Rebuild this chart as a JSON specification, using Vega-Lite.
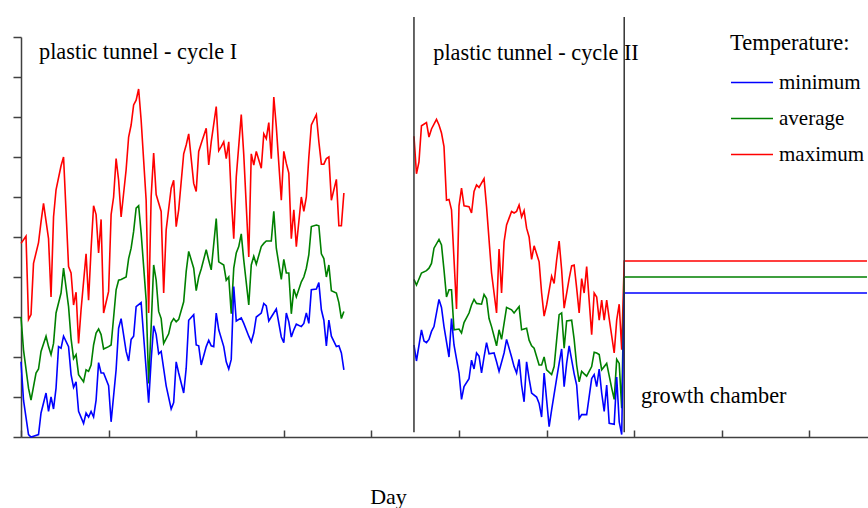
{
"$schema":"https://vega.github.io/schema/vega-lite/v6.json",
"width":847,"height":400,
"autosize":{"type":"none"},
"padding":{"left":21,"top":37,"right":0,"bottom":71},
"background":"white",
"config":{"view":{"stroke":null},"font":"Liberation Serif",
"axis":{"labels":false,"grid":false,"tickWidth":1.5,"tickColor":"#404040","domainColor":"#404040","domainWidth":1.5,"titleFont":"Liberation Serif","titleFontSize":22,"titleFontWeight":"normal","titleColor":"black"},
"axisX":{"tickSize":-7,"titleAlign":"center","titleBaseline":"alphabetic","titleX":367,"titleY":66},
"axisY":{"tickSize":8}},
"layer":[
{"data":{"values":[
{"day":0,"series":"maximum","cycle":"I","temp":24.2},{"day":2,"series":"maximum","cycle":"I","temp":25.1},{"day":3,"series":"maximum","cycle":"I","temp":14.7},{"day":4,"series":"maximum","cycle":"I","temp":15.3},{"day":5,"series":"maximum","cycle":"I","temp":21.7},{"day":7,"series":"maximum","cycle":"I","temp":24.3},{"day":8,"series":"maximum","cycle":"I","temp":26.9},{"day":9,"series":"maximum","cycle":"I","temp":29.2},{"day":11,"series":"maximum","cycle":"I","temp":24.8},{"day":12,"series":"maximum","cycle":"I","temp":17.5},{"day":13,"series":"maximum","cycle":"I","temp":27.5},{"day":14,"series":"maximum","cycle":"I","temp":30.9},{"day":16,"series":"maximum","cycle":"I","temp":33.9},{"day":17,"series":"maximum","cycle":"I","temp":35.0},{"day":19,"series":"maximum","cycle":"I","temp":21.3},{"day":20,"series":"maximum","cycle":"I","temp":20.5},{"day":21,"series":"maximum","cycle":"I","temp":16.5},{"day":22,"series":"maximum","cycle":"I","temp":18.1},{"day":23,"series":"maximum","cycle":"I","temp":11.7},{"day":24,"series":"maximum","cycle":"I","temp":15.9},{"day":26,"series":"maximum","cycle":"I","temp":22.9},{"day":27,"series":"maximum","cycle":"I","temp":17.1},{"day":28,"series":"maximum","cycle":"I","temp":23.5},{"day":29,"series":"maximum","cycle":"I","temp":28.9},{"day":30,"series":"maximum","cycle":"I","temp":27.8},{"day":31,"series":"maximum","cycle":"I","temp":23.0},{"day":32,"series":"maximum","cycle":"I","temp":27.2},{"day":33,"series":"maximum","cycle":"I","temp":15.5},{"day":35,"series":"maximum","cycle":"I","temp":18.2},{"day":36,"series":"maximum","cycle":"I","temp":27.8},{"day":37,"series":"maximum","cycle":"I","temp":30.0},{"day":38,"series":"maximum","cycle":"I","temp":34.8},{"day":39,"series":"maximum","cycle":"I","temp":32.1},{"day":40,"series":"maximum","cycle":"I","temp":27.5},{"day":42,"series":"maximum","cycle":"I","temp":33.4},{"day":43,"series":"maximum","cycle":"I","temp":37.5},{"day":44,"series":"maximum","cycle":"I","temp":39.0},{"day":45,"series":"maximum","cycle":"I","temp":41.5},{"day":46,"series":"maximum","cycle":"I","temp":42.1},{"day":47,"series":"maximum","cycle":"I","temp":43.5},{"day":48,"series":"maximum","cycle":"I","temp":39.6},{"day":50,"series":"maximum","cycle":"I","temp":29.6},{"day":51,"series":"maximum","cycle":"I","temp":15.5},{"day":52,"series":"maximum","cycle":"I","temp":30.0},{"day":53,"series":"maximum","cycle":"I","temp":35.5},{"day":54,"series":"maximum","cycle":"I","temp":30.3},{"day":56,"series":"maximum","cycle":"I","temp":28.2},{"day":57,"series":"maximum","cycle":"I","temp":18.0},{"day":58,"series":"maximum","cycle":"I","temp":25.9},{"day":60,"series":"maximum","cycle":"I","temp":31.1},{"day":61,"series":"maximum","cycle":"I","temp":32.1},{"day":62,"series":"maximum","cycle":"I","temp":26.3},{"day":63,"series":"maximum","cycle":"I","temp":28.4},{"day":65,"series":"maximum","cycle":"I","temp":35.4},{"day":66,"series":"maximum","cycle":"I","temp":36.5},{"day":67,"series":"maximum","cycle":"I","temp":37.9},{"day":69,"series":"maximum","cycle":"I","temp":31.7},{"day":70,"series":"maximum","cycle":"I","temp":30.7},{"day":71,"series":"maximum","cycle":"I","temp":35.7},{"day":72,"series":"maximum","cycle":"I","temp":36.7},{"day":74,"series":"maximum","cycle":"I","temp":38.6},{"day":75,"series":"maximum","cycle":"I","temp":34.0},{"day":76,"series":"maximum","cycle":"I","temp":36.9},{"day":78,"series":"maximum","cycle":"I","temp":41.3},{"day":79,"series":"maximum","cycle":"I","temp":35.8},{"day":80,"series":"maximum","cycle":"I","temp":36.3},{"day":81,"series":"maximum","cycle":"I","temp":36.9},{"day":82,"series":"maximum","cycle":"I","temp":34.8},{"day":83,"series":"maximum","cycle":"I","temp":36.9},{"day":84,"series":"maximum","cycle":"I","temp":30.0},{"day":85,"series":"maximum","cycle":"I","temp":24.8},{"day":86,"series":"maximum","cycle":"I","temp":32.5},{"day":88,"series":"maximum","cycle":"I","temp":40.3},{"day":89,"series":"maximum","cycle":"I","temp":35.3},{"day":91,"series":"maximum","cycle":"I","temp":22.5},{"day":92,"series":"maximum","cycle":"I","temp":35.4},{"day":93,"series":"maximum","cycle":"I","temp":34.0},{"day":94,"series":"maximum","cycle":"I","temp":35.7},{"day":96,"series":"maximum","cycle":"I","temp":33.6},{"day":97,"series":"maximum","cycle":"I","temp":37.9},{"day":98,"series":"maximum","cycle":"I","temp":37.3},{"day":99,"series":"maximum","cycle":"I","temp":39.3},{"day":100,"series":"maximum","cycle":"I","temp":34.8},{"day":101,"series":"maximum","cycle":"I","temp":42.5},{"day":102,"series":"maximum","cycle":"I","temp":38.8},{"day":104,"series":"maximum","cycle":"I","temp":29.6},{"day":105,"series":"maximum","cycle":"I","temp":35.7},{"day":106,"series":"maximum","cycle":"I","temp":34.2},{"day":107,"series":"maximum","cycle":"I","temp":33.0},{"day":108,"series":"maximum","cycle":"I","temp":24.8},{"day":109,"series":"maximum","cycle":"I","temp":28.4},{"day":110,"series":"maximum","cycle":"I","temp":23.8},{"day":112,"series":"maximum","cycle":"I","temp":30.0},{"day":113,"series":"maximum","cycle":"I","temp":28.2},{"day":114,"series":"maximum","cycle":"I","temp":30.0},{"day":115,"series":"maximum","cycle":"I","temp":35.0},{"day":116,"series":"maximum","cycle":"I","temp":39.0},{"day":118,"series":"maximum","cycle":"I","temp":40.3},{"day":119,"series":"maximum","cycle":"I","temp":36.9},{"day":120,"series":"maximum","cycle":"I","temp":34.1},{"day":121,"series":"maximum","cycle":"I","temp":34.1},{"day":122,"series":"maximum","cycle":"I","temp":34.8},{"day":123,"series":"maximum","cycle":"I","temp":35.0},{"day":124,"series":"maximum","cycle":"I","temp":29.6},{"day":126,"series":"maximum","cycle":"I","temp":32.2},{"day":127,"series":"maximum","cycle":"I","temp":26.4},{"day":128,"series":"maximum","cycle":"I","temp":26.4},{"day":129,"series":"maximum","cycle":"I","temp":30.5},
{"day":157,"series":"maximum","cycle":"II","temp":37.6},{"day":158,"series":"maximum","cycle":"II","temp":32.9},{"day":159,"series":"maximum","cycle":"II","temp":34.4},{"day":160,"series":"maximum","cycle":"II","temp":38.9},{"day":162,"series":"maximum","cycle":"II","temp":39.3},{"day":163,"series":"maximum","cycle":"II","temp":37.5},{"day":164,"series":"maximum","cycle":"II","temp":38.5},{"day":166,"series":"maximum","cycle":"II","temp":39.7},{"day":167,"series":"maximum","cycle":"II","temp":39.0},{"day":168,"series":"maximum","cycle":"II","temp":38.0},{"day":169,"series":"maximum","cycle":"II","temp":36.3},{"day":170,"series":"maximum","cycle":"II","temp":29.6},{"day":171,"series":"maximum","cycle":"II","temp":29.7},{"day":172,"series":"maximum","cycle":"II","temp":28.4},{"day":174,"series":"maximum","cycle":"II","temp":16.0},{"day":175,"series":"maximum","cycle":"II","temp":28.9},{"day":176,"series":"maximum","cycle":"II","temp":31.1},{"day":177,"series":"maximum","cycle":"II","temp":28.9},{"day":179,"series":"maximum","cycle":"II","temp":28.8},{"day":180,"series":"maximum","cycle":"II","temp":28.0},{"day":181,"series":"maximum","cycle":"II","temp":30.7},{"day":182,"series":"maximum","cycle":"II","temp":31.5},{"day":183,"series":"maximum","cycle":"II","temp":31.2},{"day":185,"series":"maximum","cycle":"II","temp":32.3},{"day":186,"series":"maximum","cycle":"II","temp":28.8},{"day":188,"series":"maximum","cycle":"II","temp":20.5},{"day":190,"series":"maximum","cycle":"II","temp":15.5},{"day":191,"series":"maximum","cycle":"II","temp":23.5},{"day":192,"series":"maximum","cycle":"II","temp":18.0},{"day":193,"series":"maximum","cycle":"II","temp":24.4},{"day":194,"series":"maximum","cycle":"II","temp":26.5},{"day":196,"series":"maximum","cycle":"II","temp":28.2},{"day":197,"series":"maximum","cycle":"II","temp":28.0},{"day":198,"series":"maximum","cycle":"II","temp":28.2},{"day":199,"series":"maximum","cycle":"II","temp":29.0},{"day":200,"series":"maximum","cycle":"II","temp":27.5},{"day":201,"series":"maximum","cycle":"II","temp":28.3},{"day":202,"series":"maximum","cycle":"II","temp":26.1},{"day":203,"series":"maximum","cycle":"II","temp":25.0},{"day":204,"series":"maximum","cycle":"II","temp":22.2},{"day":205,"series":"maximum","cycle":"II","temp":23.9},{"day":207,"series":"maximum","cycle":"II","temp":21.9},{"day":208,"series":"maximum","cycle":"II","temp":18.0},{"day":209,"series":"maximum","cycle":"II","temp":15.1},{"day":210,"series":"maximum","cycle":"II","temp":16.5},{"day":212,"series":"maximum","cycle":"II","temp":20.1},{"day":213,"series":"maximum","cycle":"II","temp":19.2},{"day":214,"series":"maximum","cycle":"II","temp":22.1},{"day":215,"series":"maximum","cycle":"II","temp":24.5},{"day":216,"series":"maximum","cycle":"II","temp":20.9},{"day":217,"series":"maximum","cycle":"II","temp":16.1},{"day":219,"series":"maximum","cycle":"II","temp":19.8},{"day":220,"series":"maximum","cycle":"II","temp":21.4},{"day":221,"series":"maximum","cycle":"II","temp":21.5},{"day":222,"series":"maximum","cycle":"II","temp":18.6},{"day":223,"series":"maximum","cycle":"II","temp":15.5},{"day":224,"series":"maximum","cycle":"II","temp":19.8},{"day":225,"series":"maximum","cycle":"II","temp":18.0},{"day":226,"series":"maximum","cycle":"II","temp":21.3},{"day":228,"series":"maximum","cycle":"II","temp":12.8},{"day":229,"series":"maximum","cycle":"II","temp":18.0},{"day":230,"series":"maximum","cycle":"II","temp":17.5},{"day":231,"series":"maximum","cycle":"II","temp":14.6},{"day":232,"series":"maximum","cycle":"II","temp":17.1},{"day":233,"series":"maximum","cycle":"II","temp":14.6},{"day":234,"series":"maximum","cycle":"II","temp":17.1},{"day":235,"series":"maximum","cycle":"II","temp":14.8},{"day":237,"series":"maximum","cycle":"II","temp":10.5},{"day":238,"series":"maximum","cycle":"II","temp":14.6},{"day":239,"series":"maximum","cycle":"II","temp":16.6},{"day":240,"series":"maximum","cycle":"II","temp":10.9},{"day":241,"series":"maximum","cycle":"II","temp":22.0},{"day":338,"series":"maximum","cycle":"II","temp":22.0},
{"day":0,"series":"average","cycle":"I","temp":15.0},{"day":1,"series":"average","cycle":"I","temp":10.9},{"day":3,"series":"average","cycle":"I","temp":6.1},{"day":4,"series":"average","cycle":"I","temp":4.6},{"day":6,"series":"average","cycle":"I","temp":8.0},{"day":7,"series":"average","cycle":"I","temp":8.5},{"day":8,"series":"average","cycle":"I","temp":10.7},{"day":10,"series":"average","cycle":"I","temp":12.6},{"day":11,"series":"average","cycle":"I","temp":11.3},{"day":12,"series":"average","cycle":"I","temp":10.3},{"day":13,"series":"average","cycle":"I","temp":11.7},{"day":14,"series":"average","cycle":"I","temp":15.5},{"day":16,"series":"average","cycle":"I","temp":18.0},{"day":17,"series":"average","cycle":"I","temp":21.1},{"day":19,"series":"average","cycle":"I","temp":16.3},{"day":20,"series":"average","cycle":"I","temp":12.3},{"day":21,"series":"average","cycle":"I","temp":9.8},{"day":22,"series":"average","cycle":"I","temp":10.3},{"day":23,"series":"average","cycle":"I","temp":7.8},{"day":25,"series":"average","cycle":"I","temp":6.9},{"day":26,"series":"average","cycle":"I","temp":8.4},{"day":27,"series":"average","cycle":"I","temp":8.2},{"day":28,"series":"average","cycle":"I","temp":9.0},{"day":29,"series":"average","cycle":"I","temp":11.5},{"day":30,"series":"average","cycle":"I","temp":13.0},{"day":31,"series":"average","cycle":"I","temp":13.5},{"day":32,"series":"average","cycle":"I","temp":12.8},{"day":33,"series":"average","cycle":"I","temp":11.0},{"day":35,"series":"average","cycle":"I","temp":11.3},{"day":36,"series":"average","cycle":"I","temp":11.5},{"day":38,"series":"average","cycle":"I","temp":18.4},{"day":39,"series":"average","cycle":"I","temp":19.6},{"day":40,"series":"average","cycle":"I","temp":19.7},{"day":42,"series":"average","cycle":"I","temp":20.0},{"day":43,"series":"average","cycle":"I","temp":22.3},{"day":44,"series":"average","cycle":"I","temp":23.6},{"day":45,"series":"average","cycle":"I","temp":25.7},{"day":46,"series":"average","cycle":"I","temp":28.6},{"day":47,"series":"average","cycle":"I","temp":28.9},{"day":48,"series":"average","cycle":"I","temp":25.5},{"day":50,"series":"average","cycle":"I","temp":17.1},{"day":51,"series":"average","cycle":"I","temp":6.7},{"day":52,"series":"average","cycle":"I","temp":13.8},{"day":53,"series":"average","cycle":"I","temp":21.5},{"day":54,"series":"average","cycle":"I","temp":19.6},{"day":55,"series":"average","cycle":"I","temp":15.7},{"day":56,"series":"average","cycle":"I","temp":14.8},{"day":57,"series":"average","cycle":"I","temp":11.7},{"day":59,"series":"average","cycle":"I","temp":12.9},{"day":60,"series":"average","cycle":"I","temp":14.3},{"day":61,"series":"average","cycle":"I","temp":14.8},{"day":62,"series":"average","cycle":"I","temp":14.4},{"day":63,"series":"average","cycle":"I","temp":14.7},{"day":65,"series":"average","cycle":"I","temp":16.9},{"day":66,"series":"average","cycle":"I","temp":20.7},{"day":67,"series":"average","cycle":"I","temp":23.2},{"day":69,"series":"average","cycle":"I","temp":21.1},{"day":70,"series":"average","cycle":"I","temp":18.3},{"day":71,"series":"average","cycle":"I","temp":20.0},{"day":72,"series":"average","cycle":"I","temp":21.0},{"day":74,"series":"average","cycle":"I","temp":23.4},{"day":75,"series":"average","cycle":"I","temp":22.1},{"day":76,"series":"average","cycle":"I","temp":20.9},{"day":78,"series":"average","cycle":"I","temp":27.3},{"day":79,"series":"average","cycle":"I","temp":21.9},{"day":81,"series":"average","cycle":"I","temp":21.5},{"day":82,"series":"average","cycle":"I","temp":19.6},{"day":83,"series":"average","cycle":"I","temp":20.0},{"day":84,"series":"average","cycle":"I","temp":15.4},{"day":85,"series":"average","cycle":"I","temp":21.1},{"day":86,"series":"average","cycle":"I","temp":23.0},{"day":87,"series":"average","cycle":"I","temp":23.8},{"day":88,"series":"average","cycle":"I","temp":25.4},{"day":89,"series":"average","cycle":"I","temp":22.1},{"day":91,"series":"average","cycle":"I","temp":16.5},{"day":92,"series":"average","cycle":"I","temp":21.5},{"day":93,"series":"average","cycle":"I","temp":22.6},{"day":94,"series":"average","cycle":"I","temp":21.6},{"day":96,"series":"average","cycle":"I","temp":23.8},{"day":97,"series":"average","cycle":"I","temp":24.2},{"day":98,"series":"average","cycle":"I","temp":24.5},{"day":100,"series":"average","cycle":"I","temp":24.5},{"day":101,"series":"average","cycle":"I","temp":28.2},{"day":102,"series":"average","cycle":"I","temp":23.6},{"day":104,"series":"average","cycle":"I","temp":19.7},{"day":105,"series":"average","cycle":"I","temp":22.2},{"day":106,"series":"average","cycle":"I","temp":20.5},{"day":107,"series":"average","cycle":"I","temp":20.5},{"day":108,"series":"average","cycle":"I","temp":15.4},{"day":109,"series":"average","cycle":"I","temp":18.5},{"day":110,"series":"average","cycle":"I","temp":17.5},{"day":112,"series":"average","cycle":"I","temp":19.4},{"day":113,"series":"average","cycle":"I","temp":20.0},{"day":114,"series":"average","cycle":"I","temp":21.1},{"day":115,"series":"average","cycle":"I","temp":22.8},{"day":116,"series":"average","cycle":"I","temp":26.3},{"day":118,"series":"average","cycle":"I","temp":26.5},{"day":119,"series":"average","cycle":"I","temp":26.4},{"day":120,"series":"average","cycle":"I","temp":22.9},{"day":121,"series":"average","cycle":"I","temp":22.3},{"day":122,"series":"average","cycle":"I","temp":20.0},{"day":123,"series":"average","cycle":"I","temp":21.5},{"day":124,"series":"average","cycle":"I","temp":18.3},{"day":126,"series":"average","cycle":"I","temp":18.0},{"day":127,"series":"average","cycle":"I","temp":16.8},{"day":128,"series":"average","cycle":"I","temp":14.8},{"day":129,"series":"average","cycle":"I","temp":15.7},
{"day":157,"series":"average","cycle":"II","temp":19.7},{"day":158,"series":"average","cycle":"II","temp":19.0},{"day":160,"series":"average","cycle":"II","temp":20.5},{"day":162,"series":"average","cycle":"II","temp":20.8},{"day":163,"series":"average","cycle":"II","temp":21.1},{"day":164,"series":"average","cycle":"II","temp":21.7},{"day":165,"series":"average","cycle":"II","temp":23.6},{"day":167,"series":"average","cycle":"II","temp":24.7},{"day":168,"series":"average","cycle":"II","temp":24.0},{"day":169,"series":"average","cycle":"II","temp":20.9},{"day":170,"series":"average","cycle":"II","temp":17.5},{"day":171,"series":"average","cycle":"II","temp":18.4},{"day":172,"series":"average","cycle":"II","temp":18.4},{"day":173,"series":"average","cycle":"II","temp":13.4},{"day":175,"series":"average","cycle":"II","temp":13.5},{"day":176,"series":"average","cycle":"II","temp":13.0},{"day":177,"series":"average","cycle":"II","temp":14.3},{"day":179,"series":"average","cycle":"II","temp":15.5},{"day":180,"series":"average","cycle":"II","temp":16.5},{"day":181,"series":"average","cycle":"II","temp":17.2},{"day":182,"series":"average","cycle":"II","temp":16.7},{"day":184,"series":"average","cycle":"II","temp":16.6},{"day":185,"series":"average","cycle":"II","temp":17.8},{"day":186,"series":"average","cycle":"II","temp":17.3},{"day":187,"series":"average","cycle":"II","temp":14.8},{"day":188,"series":"average","cycle":"II","temp":13.8},{"day":190,"series":"average","cycle":"II","temp":11.4},{"day":191,"series":"average","cycle":"II","temp":13.4},{"day":192,"series":"average","cycle":"II","temp":12.2},{"day":194,"series":"average","cycle":"II","temp":16.2},{"day":196,"series":"average","cycle":"II","temp":15.9},{"day":197,"series":"average","cycle":"II","temp":15.5},{"day":199,"series":"average","cycle":"II","temp":16.3},{"day":200,"series":"average","cycle":"II","temp":13.4},{"day":202,"series":"average","cycle":"II","temp":13.6},{"day":203,"series":"average","cycle":"II","temp":12.1},{"day":204,"series":"average","cycle":"II","temp":11.4},{"day":205,"series":"average","cycle":"II","temp":11.1},{"day":207,"series":"average","cycle":"II","temp":9.0},{"day":208,"series":"average","cycle":"II","temp":9.0},{"day":209,"series":"average","cycle":"II","temp":10.0},{"day":210,"series":"average","cycle":"II","temp":8.4},{"day":212,"series":"average","cycle":"II","temp":7.8},{"day":213,"series":"average","cycle":"II","temp":8.8},{"day":214,"series":"average","cycle":"II","temp":12.1},{"day":215,"series":"average","cycle":"II","temp":15.3},{"day":216,"series":"average","cycle":"II","temp":15.5},{"day":217,"series":"average","cycle":"II","temp":11.1},{"day":218,"series":"average","cycle":"II","temp":14.5},{"day":220,"series":"average","cycle":"II","temp":14.6},{"day":221,"series":"average","cycle":"II","temp":12.2},{"day":222,"series":"average","cycle":"II","temp":9.0},{"day":223,"series":"average","cycle":"II","temp":6.9},{"day":224,"series":"average","cycle":"II","temp":8.2},{"day":225,"series":"average","cycle":"II","temp":7.9},{"day":226,"series":"average","cycle":"II","temp":7.6},{"day":228,"series":"average","cycle":"II","temp":8.8},{"day":229,"series":"average","cycle":"II","temp":10.6},{"day":230,"series":"average","cycle":"II","temp":10.5},{"day":231,"series":"average","cycle":"II","temp":10.3},{"day":232,"series":"average","cycle":"II","temp":8.4},{"day":234,"series":"average","cycle":"II","temp":9.2},{"day":236,"series":"average","cycle":"II","temp":6.1},{"day":237,"series":"average","cycle":"II","temp":4.7},{"day":238,"series":"average","cycle":"II","temp":9.7},{"day":239,"series":"average","cycle":"II","temp":9.2},{"day":240,"series":"average","cycle":"II","temp":3.6},{"day":241,"series":"average","cycle":"II","temp":20.0},{"day":338,"series":"average","cycle":"II","temp":20.0},
{"day":0,"series":"minimum","cycle":"I","temp":9.4},{"day":1,"series":"minimum","cycle":"I","temp":4.6},{"day":3,"series":"minimum","cycle":"I","temp":0.3},{"day":4,"series":"minimum","cycle":"I","temp":0.0},{"day":5,"series":"minimum","cycle":"I","temp":0.1},{"day":7,"series":"minimum","cycle":"I","temp":0.3},{"day":8,"series":"minimum","cycle":"I","temp":3.0},{"day":10,"series":"minimum","cycle":"I","temp":5.5},{"day":11,"series":"minimum","cycle":"I","temp":3.2},{"day":12,"series":"minimum","cycle":"I","temp":5.0},{"day":13,"series":"minimum","cycle":"I","temp":3.5},{"day":14,"series":"minimum","cycle":"I","temp":6.1},{"day":15,"series":"minimum","cycle":"I","temp":11.3},{"day":16,"series":"minimum","cycle":"I","temp":11.1},{"day":17,"series":"minimum","cycle":"I","temp":12.6},{"day":19,"series":"minimum","cycle":"I","temp":11.3},{"day":20,"series":"minimum","cycle":"I","temp":7.8},{"day":21,"series":"minimum","cycle":"I","temp":6.2},{"day":22,"series":"minimum","cycle":"I","temp":6.9},{"day":23,"series":"minimum","cycle":"I","temp":3.2},{"day":25,"series":"minimum","cycle":"I","temp":1.7},{"day":26,"series":"minimum","cycle":"I","temp":3.0},{"day":27,"series":"minimum","cycle":"I","temp":2.5},{"day":28,"series":"minimum","cycle":"I","temp":3.2},{"day":29,"series":"minimum","cycle":"I","temp":2.5},{"day":30,"series":"minimum","cycle":"I","temp":4.6},{"day":31,"series":"minimum","cycle":"I","temp":9.3},{"day":32,"series":"minimum","cycle":"I","temp":8.0},{"day":33,"series":"minimum","cycle":"I","temp":8.0},{"day":35,"series":"minimum","cycle":"I","temp":6.4},{"day":36,"series":"minimum","cycle":"I","temp":1.9},{"day":38,"series":"minimum","cycle":"I","temp":8.4},{"day":39,"series":"minimum","cycle":"I","temp":13.6},{"day":40,"series":"minimum","cycle":"I","temp":14.8},{"day":42,"series":"minimum","cycle":"I","temp":10.7},{"day":43,"series":"minimum","cycle":"I","temp":9.5},{"day":44,"series":"minimum","cycle":"I","temp":12.2},{"day":45,"series":"minimum","cycle":"I","temp":12.6},{"day":46,"series":"minimum","cycle":"I","temp":16.3},{"day":48,"series":"minimum","cycle":"I","temp":16.8},{"day":49,"series":"minimum","cycle":"I","temp":12.6},{"day":51,"series":"minimum","cycle":"I","temp":4.3},{"day":52,"series":"minimum","cycle":"I","temp":9.6},{"day":53,"series":"minimum","cycle":"I","temp":13.9},{"day":54,"series":"minimum","cycle":"I","temp":12.8},{"day":55,"series":"minimum","cycle":"I","temp":10.4},{"day":56,"series":"minimum","cycle":"I","temp":10.7},{"day":58,"series":"minimum","cycle":"I","temp":6.4},{"day":60,"series":"minimum","cycle":"I","temp":3.5},{"day":61,"series":"minimum","cycle":"I","temp":4.3},{"day":62,"series":"minimum","cycle":"I","temp":9.4},{"day":63,"series":"minimum","cycle":"I","temp":8.0},{"day":65,"series":"minimum","cycle":"I","temp":5.5},{"day":66,"series":"minimum","cycle":"I","temp":8.6},{"day":67,"series":"minimum","cycle":"I","temp":14.6},{"day":69,"series":"minimum","cycle":"I","temp":15.3},{"day":70,"series":"minimum","cycle":"I","temp":11.5},{"day":71,"series":"minimum","cycle":"I","temp":11.4},{"day":72,"series":"minimum","cycle":"I","temp":9.0},{"day":74,"series":"minimum","cycle":"I","temp":11.3},{"day":75,"series":"minimum","cycle":"I","temp":12.1},{"day":76,"series":"minimum","cycle":"I","temp":11.4},{"day":77,"series":"minimum","cycle":"I","temp":11.3},{"day":78,"series":"minimum","cycle":"I","temp":15.5},{"day":79,"series":"minimum","cycle":"I","temp":13.4},{"day":81,"series":"minimum","cycle":"I","temp":11.3},{"day":82,"series":"minimum","cycle":"I","temp":9.4},{"day":83,"series":"minimum","cycle":"I","temp":8.5},{"day":84,"series":"minimum","cycle":"I","temp":9.7},{"day":85,"series":"minimum","cycle":"I","temp":18.8},{"day":86,"series":"minimum","cycle":"I","temp":14.5},{"day":88,"series":"minimum","cycle":"I","temp":14.9},{"day":89,"series":"minimum","cycle":"I","temp":14.2},{"day":91,"series":"minimum","cycle":"I","temp":12.6},{"day":92,"series":"minimum","cycle":"I","temp":11.9},{"day":93,"series":"minimum","cycle":"I","temp":13.0},{"day":94,"series":"minimum","cycle":"I","temp":15.0},{"day":96,"series":"minimum","cycle":"I","temp":15.5},{"day":97,"series":"minimum","cycle":"I","temp":16.7},{"day":98,"series":"minimum","cycle":"I","temp":16.4},{"day":99,"series":"minimum","cycle":"I","temp":14.5},{"day":100,"series":"minimum","cycle":"I","temp":15.0},{"day":101,"series":"minimum","cycle":"I","temp":15.5},{"day":102,"series":"minimum","cycle":"I","temp":16.0},{"day":104,"series":"minimum","cycle":"I","temp":12.5},{"day":105,"series":"minimum","cycle":"I","temp":11.8},{"day":106,"series":"minimum","cycle":"I","temp":15.5},{"day":107,"series":"minimum","cycle":"I","temp":14.4},{"day":108,"series":"minimum","cycle":"I","temp":12.5},{"day":109,"series":"minimum","cycle":"I","temp":13.4},{"day":110,"series":"minimum","cycle":"I","temp":14.1},{"day":112,"series":"minimum","cycle":"I","temp":13.8},{"day":113,"series":"minimum","cycle":"I","temp":14.2},{"day":114,"series":"minimum","cycle":"I","temp":15.5},{"day":115,"series":"minimum","cycle":"I","temp":14.2},{"day":116,"series":"minimum","cycle":"I","temp":18.4},{"day":118,"series":"minimum","cycle":"I","temp":18.5},{"day":119,"series":"minimum","cycle":"I","temp":19.3},{"day":120,"series":"minimum","cycle":"I","temp":15.9},{"day":121,"series":"minimum","cycle":"I","temp":14.6},{"day":122,"series":"minimum","cycle":"I","temp":11.4},{"day":123,"series":"minimum","cycle":"I","temp":14.6},{"day":124,"series":"minimum","cycle":"I","temp":12.6},{"day":126,"series":"minimum","cycle":"I","temp":11.3},{"day":127,"series":"minimum","cycle":"I","temp":11.4},{"day":128,"series":"minimum","cycle":"I","temp":10.5},{"day":129,"series":"minimum","cycle":"I","temp":8.4},
{"day":157,"series":"minimum","cycle":"II","temp":11.5},{"day":158,"series":"minimum","cycle":"II","temp":9.5},{"day":160,"series":"minimum","cycle":"II","temp":13.4},{"day":161,"series":"minimum","cycle":"II","temp":12.0},{"day":162,"series":"minimum","cycle":"II","temp":11.8},{"day":163,"series":"minimum","cycle":"II","temp":12.2},{"day":164,"series":"minimum","cycle":"II","temp":13.2},{"day":165,"series":"minimum","cycle":"II","temp":13.8},{"day":167,"series":"minimum","cycle":"II","temp":17.2},{"day":168,"series":"minimum","cycle":"II","temp":16.2},{"day":169,"series":"minimum","cycle":"II","temp":13.8},{"day":171,"series":"minimum","cycle":"II","temp":10.0},{"day":172,"series":"minimum","cycle":"II","temp":14.8},{"day":173,"series":"minimum","cycle":"II","temp":11.5},{"day":175,"series":"minimum","cycle":"II","temp":8.0},{"day":176,"series":"minimum","cycle":"II","temp":4.7},{"day":177,"series":"minimum","cycle":"II","temp":6.3},{"day":179,"series":"minimum","cycle":"II","temp":7.3},{"day":180,"series":"minimum","cycle":"II","temp":9.6},{"day":181,"series":"minimum","cycle":"II","temp":8.5},{"day":182,"series":"minimum","cycle":"II","temp":10.5},{"day":183,"series":"minimum","cycle":"II","temp":10.1},{"day":184,"series":"minimum","cycle":"II","temp":8.0},{"day":185,"series":"minimum","cycle":"II","temp":10.0},{"day":186,"series":"minimum","cycle":"II","temp":11.8},{"day":187,"series":"minimum","cycle":"II","temp":10.4},{"day":189,"series":"minimum","cycle":"II","temp":10.5},{"day":190,"series":"minimum","cycle":"II","temp":9.4},{"day":191,"series":"minimum","cycle":"II","temp":8.2},{"day":193,"series":"minimum","cycle":"II","temp":10.5},{"day":194,"series":"minimum","cycle":"II","temp":12.2},{"day":196,"series":"minimum","cycle":"II","temp":10.0},{"day":197,"series":"minimum","cycle":"II","temp":8.8},{"day":198,"series":"minimum","cycle":"II","temp":8.0},{"day":199,"series":"minimum","cycle":"II","temp":9.7},{"day":200,"series":"minimum","cycle":"II","temp":6.5},{"day":201,"series":"minimum","cycle":"II","temp":4.4},{"day":202,"series":"minimum","cycle":"II","temp":9.4},{"day":203,"series":"minimum","cycle":"II","temp":7.3},{"day":204,"series":"minimum","cycle":"II","temp":5.5},{"day":206,"series":"minimum","cycle":"II","temp":5.0},{"day":207,"series":"minimum","cycle":"II","temp":4.2},{"day":208,"series":"minimum","cycle":"II","temp":2.5},{"day":209,"series":"minimum","cycle":"II","temp":8.0},{"day":211,"series":"minimum","cycle":"II","temp":1.3},{"day":212,"series":"minimum","cycle":"II","temp":3.4},{"day":214,"series":"minimum","cycle":"II","temp":7.3},{"day":215,"series":"minimum","cycle":"II","temp":9.2},{"day":216,"series":"minimum","cycle":"II","temp":11.0},{"day":217,"series":"minimum","cycle":"II","temp":6.3},{"day":218,"series":"minimum","cycle":"II","temp":9.2},{"day":219,"series":"minimum","cycle":"II","temp":11.4},{"day":221,"series":"minimum","cycle":"II","temp":7.9},{"day":222,"series":"minimum","cycle":"II","temp":6.5},{"day":223,"series":"minimum","cycle":"II","temp":2.3},{"day":224,"series":"minimum","cycle":"II","temp":2.8},{"day":226,"series":"minimum","cycle":"II","temp":2.8},{"day":228,"series":"minimum","cycle":"II","temp":7.3},{"day":229,"series":"minimum","cycle":"II","temp":7.8},{"day":230,"series":"minimum","cycle":"II","temp":6.3},{"day":231,"series":"minimum","cycle":"II","temp":8.5},{"day":232,"series":"minimum","cycle":"II","temp":5.5},{"day":233,"series":"minimum","cycle":"II","temp":3.2},{"day":234,"series":"minimum","cycle":"II","temp":6.5},{"day":235,"series":"minimum","cycle":"II","temp":1.7},{"day":237,"series":"minimum","cycle":"II","temp":1.6},{"day":238,"series":"minimum","cycle":"II","temp":7.5},{"day":239,"series":"minimum","cycle":"II","temp":1.9},{"day":240,"series":"minimum","cycle":"II","temp":0.3},{"day":241,"series":"minimum","cycle":"II","temp":18.0},{"day":338,"series":"minimum","cycle":"II","temp":18.0}
]},
"mark":{"type":"line","strokeWidth":1.6},
"encoding":{
"x":{"field":"day","type":"quantitative","scale":{"domain":[0,338.4],"nice":false,"zero":false},
"axis":{"values":[0,35,70,105,140,175,210,245,280,315],"title":"Day"}},
"y":{"field":"temp","type":"quantitative","scale":{"domain":[0,50],"nice":false},
"axis":{"values":[0,5,10,15,20,25,30,35,40,45,50],"title":null}},
"color":{"field":"series","type":"nominal","scale":{"domain":["minimum","average","maximum"],"range":["#0000ff","#008000","#ff0000"]},
"legend":{"orient":"none","legendX":709,"legendY":-5,"padding":0,"title":"Temperature:","titleFont":"Liberation Serif","titleFontSize":22.5,"titleFontWeight":"normal","titleColor":"black","titlePadding":6,"labelFont":"Liberation Serif","labelFontSize":21,"labelColor":"black","labelOffset":5,"symbolType":"stroke","symbolSize":1764,"symbolStrokeWidth":1.5,"rowPadding":4}},
"detail":{"field":"cycle"}
}},
{"data":{"values":[{"day":157},{"day":241}]},
"mark":{"type":"rule","color":"#333333","strokeWidth":1.5},
"encoding":{"x":{"field":"day","type":"quantitative","axis":{"values":[0,35,70,105,140,175,210,245,280,315],"title":"Day"}},"y":{"datum":0.6,"type":"quantitative","axis":{"values":[0,5,10,15,20,25,30,35,40,45,50],"title":null}},"y2":{"datum":52.5}}},
{"data":{"values":[{"label":"plastic tunnel - cycle I"}]},
"mark":{"type":"text","align":"left","baseline":"alphabetic","font":"Liberation Serif","fontSize":22.3,"color":"black"},
"encoding":{"x":{"datum":7.2,"type":"quantitative","axis":{"values":[0,35,70,105,140,175,210,245,280,315],"title":"Day"}},"y":{"datum":47.25,"type":"quantitative","axis":{"values":[0,5,10,15,20,25,30,35,40,45,50],"title":null}},"text":{"field":"label"}}},
{"data":{"values":[{"label":"plastic tunnel - cycle II"}]},
"mark":{"type":"text","align":"left","baseline":"alphabetic","font":"Liberation Serif","fontSize":22.3,"color":"black"},
"encoding":{"x":{"datum":164.7,"type":"quantitative","axis":{"values":[0,35,70,105,140,175,210,245,280,315],"title":"Day"}},"y":{"datum":47.1,"type":"quantitative","axis":{"values":[0,5,10,15,20,25,30,35,40,45,50],"title":null}},"text":{"field":"label"}}},
{"data":{"values":[{"label":"growth chamber"}]},
"mark":{"type":"text","align":"left","baseline":"alphabetic","font":"Liberation Serif","fontSize":22.3,"color":"black"},
"encoding":{"x":{"datum":247.7,"type":"quantitative","axis":{"values":[0,35,70,105,140,175,210,245,280,315],"title":"Day"}},"y":{"datum":4.3,"type":"quantitative","axis":{"values":[0,5,10,15,20,25,30,35,40,45,50],"title":null}},"text":{"field":"label"}}}
]
}
